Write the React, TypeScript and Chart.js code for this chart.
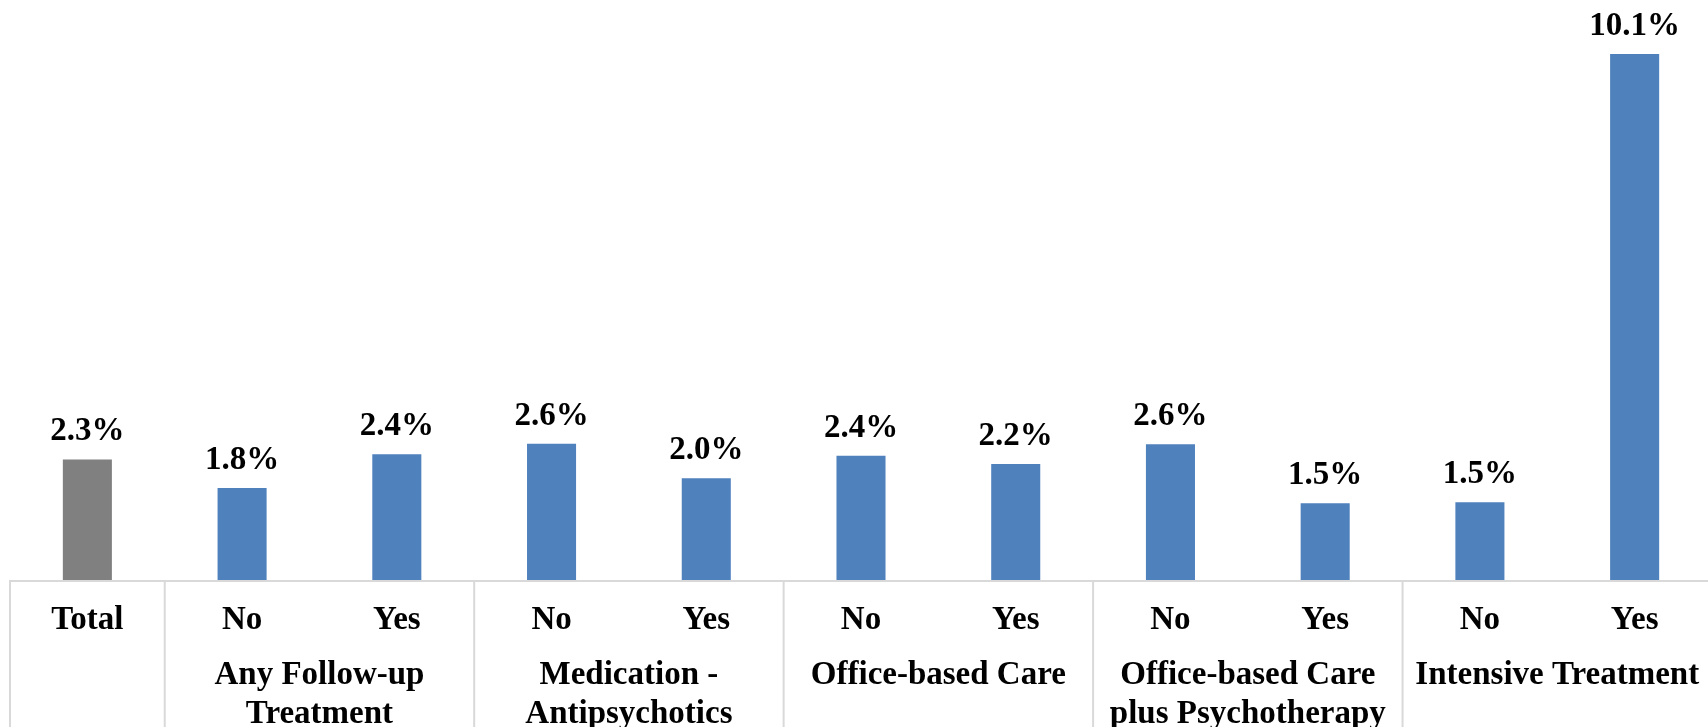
import React, { useEffect, useRef } from "react";
import { Chart, registerables } from "chart.js";

Chart.register(...registerables);

const categories = ["Total", "No", "Yes", "No", "Yes", "No", "Yes", "No", "Yes", "No", "Yes"];
const values = [2.33, 1.78, 2.43, 2.63, 1.97, 2.4, 2.24, 2.62, 1.49, 1.51, 10.1];
const barColors = ["#808080", "#4F81BD", "#4F81BD", "#4F81BD", "#4F81BD", "#4F81BD", "#4F81BD", "#4F81BD", "#4F81BD", "#4F81BD", "#4F81BD"];
const groupLabels: string[][] = [
  ["Any Follow-up", "Treatment"],
  ["Medication -", "Antipsychotics"],
  ["Office-based Care"],
  ["Office-based Care", "plus Psychotherapy"],
  ["Intensive Treatment"],
];
const groupStarts = [1, 3, 5, 7, 9];
const groupSize = 2;

const FONT = "'Liberation Serif', 'Times New Roman', serif";
const FSIZE = 33;

const dataLabelPlugin = {
  id: "dataLabels",
  afterDatasetsDraw(chart: any) {
    const ctx = chart.ctx;
    const meta = chart.getDatasetMeta(0);
    ctx.save();
    ctx.font = `bold ${FSIZE}px ${FONT}`;
    ctx.fillStyle = "#000";
    ctx.textAlign = "center";
    ctx.textBaseline = "alphabetic";
    meta.data.forEach((bar: any, i: number) => {
      ctx.fillText(values[i].toFixed(1) + "%", bar.x, bar.y - 19);
    });
    ctx.restore();
  },
};

const axisBoxPlugin = {
  id: "axisBox",
  afterDraw(chart: any) {
    const ctx = chart.ctx;
    const x = chart.scales.x;
    const area = chart.chartArea;
    const bottom = chart.height;
    const step = x.getPixelForValue(1) - x.getPixelForValue(0);
    ctx.save();
    ctx.strokeStyle = "#D9D9D9";
    ctx.lineWidth = 2;
    ctx.beginPath();
    ctx.moveTo(area.left - 1, area.bottom);
    ctx.lineTo(chart.width, area.bottom);
    ctx.moveTo(area.left, area.bottom);
    ctx.lineTo(area.left, bottom);
    groupStarts.forEach((s) => {
      const bx = x.getPixelForValue(s) - step / 2;
      ctx.moveTo(bx, area.bottom);
      ctx.lineTo(bx, bottom);
    });
    ctx.stroke();

    ctx.font = `bold ${FSIZE}px ${FONT}`;
    ctx.fillStyle = "#000";
    ctx.textAlign = "center";
    ctx.textBaseline = "alphabetic";
    groupLabels.forEach((lines, g) => {
      const s = groupStarts[g];
      const cx = (x.getPixelForValue(s) + x.getPixelForValue(s + groupSize - 1)) / 2;
      lines.forEach((t, li) => {
        ctx.fillText(t, cx, area.bottom + 103 + li * 39);
      });
    });
    ctx.restore();
  },
};

export default function App() {
  const ref = useRef<HTMLCanvasElement | null>(null);
  useEffect(() => {
    document.body.style.margin = "0";
    document.body.style.overflow = "hidden";
    document.documentElement.style.overflow = "hidden";
    const chart = new Chart(ref.current!, {
      type: "bar",
      data: {
        labels: categories,
        datasets: [
          {
            data: values,
            backgroundColor: barColors,
            borderWidth: 0,
            barPercentage: 0.317,
            categoryPercentage: 1,
          },
        ],
      },
      options: {
        responsive: false,
        animation: false,
        layout: { padding: { left: 10, right: 0, top: 0, bottom: 0 } },
        plugins: { legend: { display: false }, tooltip: { enabled: false }, title: { display: false } },
        scales: {
          x: {
            grid: { display: false },
            border: { display: false },
            ticks: {
              color: "#000",
              font: { family: FONT, size: FSIZE, weight: "bold" },
              padding: 12,
              maxRotation: 0,
              autoSkip: false,
            },
            afterFit: (s: any) => {
              s.height = 146;
            },
          },
          y: {
            display: false,
            min: 0,
            max: 11.135,
          },
        },
      },
      plugins: [dataLabelPlugin, axisBoxPlugin],
    });
    return () => chart.destroy();
  }, []);
  return (
    <div style={{ width: 1712, height: 727, overflow: "hidden" }}>
      <canvas ref={ref} width={1712} height={727} style={{ display: "block" }} />
    </div>
  );
}
